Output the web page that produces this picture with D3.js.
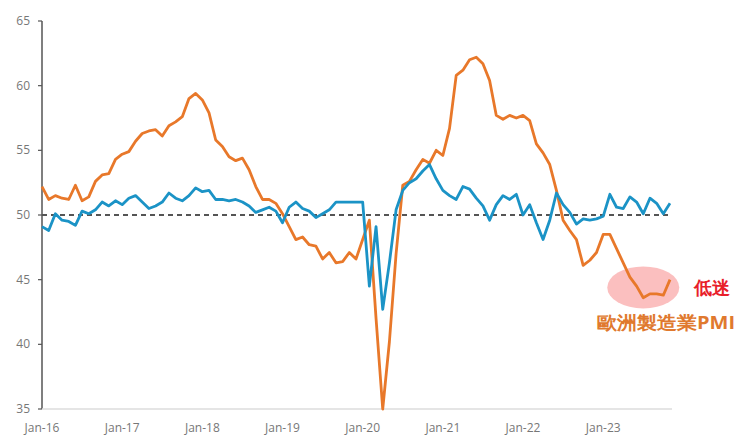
<!DOCTYPE html>
<html>
<head>
<meta charset="utf-8">
<script src="https://cdn.jsdelivr.net/npm/d3@7"></script>
<style>
  body { margin: 0; background: #fff; }
  text { font-family: "Open Sans", "Noto Sans", sans-serif; }
</style>
</head>
<body>
<div id="chart"></div>
<script>
const W = 740, H = 446;

// monthly, Jan-16 .. Nov-23
const europePMI = [
  52.2, 51.2, 51.5, 51.3, 51.2, 52.3, 51.1, 51.4, 52.6, 53.1, 53.2, 54.3,
  54.7, 54.9, 55.7, 56.3, 56.5, 56.6, 56.1, 56.9, 57.2, 57.6, 59.0, 59.4,
  58.9, 57.9, 55.8, 55.3, 54.5, 54.2, 54.4, 53.5, 52.2, 51.2, 51.2, 50.9,
  50.1, 49.1, 48.1, 48.3, 47.7, 47.6, 46.6, 47.1, 46.3, 46.4, 47.1, 46.6,
  48.1, 49.6, 42.0, 35.0, 40.2, 47.0, 52.3, 52.6, 53.5, 54.3, 54.0, 55.0,
  54.6, 56.7, 60.8, 61.2, 62.0, 62.2, 61.7, 60.4, 57.7, 57.4, 57.7, 57.5,
  57.7, 57.3, 55.5, 54.8, 53.9, 51.9, 49.6, 48.8, 48.1, 46.1, 46.5, 47.1,
  48.5, 48.5, 47.4, 46.3, 45.2, 44.5, 43.6, 43.9, 43.9, 43.8, 45.0
];
const otherPMI = [
  49.1, 48.8, 50.1, 49.6, 49.5, 49.2, 50.3, 50.1, 50.4, 51.0, 50.7, 51.1,
  50.8, 51.3, 51.5, 51.0, 50.5, 50.7, 51.0, 51.7, 51.3, 51.1, 51.5, 52.1,
  51.8, 51.9, 51.2, 51.2, 51.1, 51.2, 51.0, 50.7, 50.2, 50.4, 50.6, 50.3,
  49.4, 50.6, 51.0, 50.5, 50.3, 49.8, 50.1, 50.4, 51.0, 51.0, 51.0, 51.0,
  51.0, 44.5, 49.1, 42.7, 46.3, 50.4, 51.9, 52.5, 52.8, 53.4, 53.9, 52.8,
  51.9, 51.5, 51.2, 52.2, 52.0, 51.3, 50.7, 49.6, 50.8, 51.5, 51.2, 51.6,
  50.0, 50.8, 49.4, 48.1, 49.6, 51.7, 50.8, 50.2, 49.3, 49.7, 49.6, 49.7,
  49.9, 51.6, 50.6, 50.5, 51.4, 51.0, 50.1, 51.3, 50.9, 50.1, 50.9
];
const yTicks = [35, 40, 45, 50, 55, 60, 65];
const xTickLabels = ["Jan-16", "Jan-17", "Jan-18", "Jan-19", "Jan-20", "Jan-21", "Jan-22", "Jan-23"];

const svg = d3.select("#chart").append("svg").attr("width", W).attr("height", H);

const x = d3.scaleLinear().domain([0, 94]).range([42, 670]);
const y = d3.scaleLinear().domain([35, 65]).range([409, 21]);

// y axis
svg.append("line").attr("x1", 42).attr("x2", 42).attr("y1", y(65)).attr("y2", y(35))
  .attr("stroke", "#555").attr("stroke-width", 1.5);
svg.selectAll(".ytick").data(yTicks).enter().append("line")
  .attr("x1", 38).attr("x2", 42).attr("y1", d => y(d)).attr("y2", d => y(d))
  .attr("stroke", "#555").attr("stroke-width", 1.2);
svg.selectAll(".ylab").data(yTicks).enter().append("text")
  .attr("x", 30).attr("y", d => y(d) + 4).attr("text-anchor", "end")
  .attr("font-size", 12).attr("fill", "#777").text(d => d);

// x axis
svg.append("line").attr("x1", 42).attr("x2", 672).attr("y1", y(35)).attr("y2", y(35))
  .attr("stroke", "#ddd").attr("stroke-width", 1.5);
svg.selectAll(".xlab").data(xTickLabels).enter().append("text")
  .attr("x", (d, i) => x(i * 12)).attr("y", 432).attr("text-anchor", "middle")
  .attr("font-size", 12).attr("fill", "#777").text(d => d);

// 50 reference
svg.append("line").attr("x1", x(0)).attr("x2", x(94)).attr("y1", y(50)).attr("y2", y(50))
  .attr("stroke", "#555").attr("stroke-width", 2).attr("stroke-dasharray", "5,4");

// highlight ellipse
svg.append("ellipse").attr("cx", x(90)).attr("cy", y(44.4)).attr("rx", 36).attr("ry", 21)
  .attr("fill", "#f9a9aa").attr("opacity", 0.75);

const line = d3.line().x((d, i) => x(i)).y(d => y(d));
svg.append("path").datum(europePMI).attr("d", line).attr("fill", "none")
  .attr("stroke", "#e8782a").attr("stroke-width", 2.8).attr("stroke-linejoin", "round");
svg.append("path").datum(otherPMI).attr("d", line).attr("fill", "none")
  .attr("stroke", "#1b93c6").attr("stroke-width", 2.8).attr("stroke-linejoin", "round");

svg.append("text").attr("x", 694).attr("y", 294).attr("font-size", 18).attr("font-weight", "bold")
  .attr("fill", "#e8202a").attr("font-family", "Noto Sans CJK TC").text("低迷");
svg.append("text").attr("x", 597).attr("y", 329).attr("font-size", 18).attr("font-weight", "bold")
  .attr("fill", "#e0792e").attr("font-family", "Noto Sans CJK TC")
  .attr("textLength", 138).attr("lengthAdjust", "spacingAndGlyphs").text("歐洲製造業PMI");
</script>
</body>
</html>
